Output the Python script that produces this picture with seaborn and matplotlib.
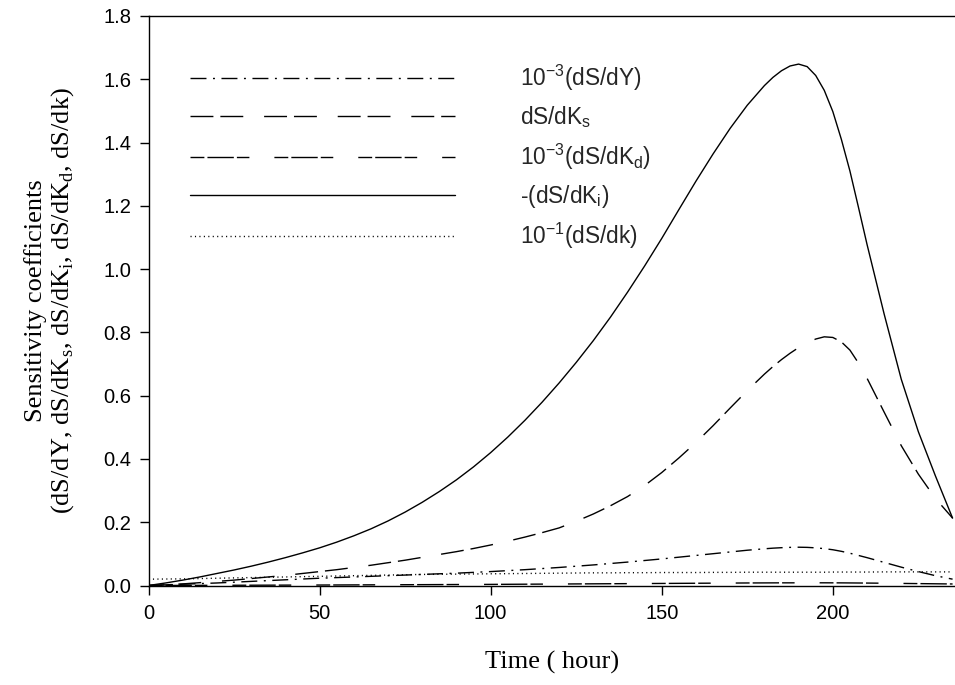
import numpy as np
import pandas as pd
import matplotlib
matplotlib.use("Agg")
import matplotlib.pyplot as plt
import seaborn as sns

# ---------------- data ----------------
time_h = [0, 5, 10, 15, 20, 25, 30, 35, 40, 45, 50, 55, 60, 65, 70, 75, 80, 85, 90, 95,
          100, 105, 110, 115, 120, 125, 130, 135, 140, 145, 150, 155, 160, 165, 170, 175,
          180, 182.5, 185, 187.5, 190, 192.5, 195, 197.5, 200, 202.5, 205, 207.5, 210,
          215, 220, 225, 230, 235]

dSdY_e3 = [0.000, 0.002, 0.004, 0.006, 0.008, 0.0105, 0.013, 0.0155, 0.018, 0.0205,
           0.023, 0.025, 0.027, 0.029, 0.031, 0.033, 0.035, 0.037, 0.039, 0.0415,
           0.044, 0.047, 0.050, 0.0535, 0.057, 0.061, 0.065, 0.0695, 0.074, 0.079,
           0.084, 0.0895, 0.095, 0.1005, 0.106, 0.1115,
           0.116, 0.118, 0.1195, 0.1205, 0.121, 0.1205, 0.119, 0.1165, 0.113, 0.108,
           0.102, 0.095, 0.088,
           0.073, 0.058, 0.044, 0.031, 0.020]

dSdKs = [0.000, 0.002, 0.005, 0.009, 0.013, 0.017, 0.022, 0.027, 0.032, 0.038,
         0.044, 0.050, 0.057, 0.064, 0.072, 0.080, 0.089, 0.098, 0.107, 0.117,
         0.128, 0.140, 0.153, 0.167, 0.182, 0.203, 0.226, 0.252, 0.281, 0.316,
         0.357, 0.403, 0.452, 0.505, 0.561, 0.616,
         0.668, 0.692, 0.714, 0.734, 0.752, 0.767, 0.779, 0.786, 0.784, 0.770,
         0.744, 0.703, 0.655,
         0.548, 0.442, 0.352, 0.275, 0.213]

dSdKd_e3 = [0.0000, 0.00015, 0.0003, 0.00045, 0.0006, 0.00075, 0.0009, 0.00105, 0.0012, 0.00135,
            0.0015, 0.0017, 0.0019, 0.0021, 0.0023, 0.0025, 0.0027, 0.0029, 0.0031, 0.0033,
            0.0035, 0.0038, 0.0041, 0.0044, 0.0047, 0.0050, 0.0053, 0.0056, 0.0059, 0.0062,
            0.0065, 0.0068, 0.0071, 0.0074, 0.0077, 0.0080,
            0.0082, 0.0083, 0.0084, 0.0084, 0.0085, 0.0085, 0.0085, 0.0085, 0.0084, 0.0083,
            0.0081, 0.0079, 0.0077,
            0.0072, 0.0066, 0.0060, 0.0054, 0.0048]

neg_dSdKi = [0.000, 0.008, 0.017, 0.027, 0.038, 0.049, 0.061, 0.074, 0.088, 0.103,
             0.119, 0.137, 0.157, 0.179, 0.204, 0.232, 0.263, 0.297, 0.334, 0.375,
             0.420, 0.469, 0.522, 0.579, 0.640, 0.705, 0.774, 0.848, 0.927, 1.010,
             1.097, 1.188, 1.278, 1.364, 1.445, 1.518,
             1.580, 1.606, 1.627, 1.642, 1.648, 1.640, 1.612, 1.565, 1.498, 1.410,
             1.310, 1.195, 1.078,
             0.858, 0.652, 0.486, 0.346, 0.213]

dSdk_e1 = [0.020, 0.0205, 0.021, 0.022, 0.023, 0.024, 0.025, 0.026, 0.027, 0.028,
           0.029, 0.030, 0.031, 0.032, 0.033, 0.034, 0.035, 0.0355, 0.036, 0.0365,
           0.037, 0.0375, 0.038, 0.0385, 0.039, 0.0395, 0.040, 0.040, 0.0405, 0.0405,
           0.041, 0.041, 0.041, 0.0415, 0.0415, 0.042,
           0.042, 0.042, 0.042, 0.042, 0.042, 0.042, 0.042, 0.042, 0.0425, 0.0425,
           0.0425, 0.0425, 0.0425,
           0.043, 0.043, 0.043, 0.043, 0.043]

series_labels = [r"10$^{\mathregular{-3}}$(dS/dY)",
                 r"dS/dK$_{\mathregular{s}}$",
                 r"10$^{\mathregular{-3}}$(dS/dK$_{\mathregular{d}}$)",
                 r"-(dS/dK$_{\mathregular{i}}$)",
                 r"10$^{\mathregular{-1}}$(dS/dk)"]
series_values = [dSdY_e3, dSdKs, dSdKd_e3, neg_dSdKi, dSdk_e1]

x_ticks = [0, 50, 100, 150, 200]
y_ticks = [0.0, 0.2, 0.4, 0.6, 0.8, 1.0, 1.2, 1.4, 1.6, 1.8]

for vals in series_values:
    assert len(vals) == len(time_h)

# ---------------- styling ----------------
sns.set_theme(style="ticks")
plt.rcParams["font.family"] = ["Liberation Sans", "DejaVu Sans"]
plt.rcParams["lines.scale_dashes"] = False
plt.rcParams["axes.linewidth"] = 1.0

dash_styles = {
    series_labels[0]: (11.5, 4.7, 1.4, 4.7),
    series_labels[1]: (16.5, 5.0, 16.5, 15.0),
    series_labels[2]: (10.0, 2.2, 19.0, 2.2, 9.0, 18.0),
    series_labels[3]: "",
    series_labels[4]: (0.8, 2.4),
}

rows = []
for lab, vals in zip(series_labels, series_values):
    for t, v in zip(time_h, vals):
        rows.append({"Time": t, "Value": v, "Series": lab})
df = pd.DataFrame(rows)

W, H = 955, 685
fig = plt.figure(figsize=(W / 100, H / 100), dpi=100)
ax = fig.add_axes([148.5 / W, (H - 585.5) / H, (956 - 148.5) / W, (585.5 - 16) / H])

sns.lineplot(data=df, x="Time", y="Value", style="Series", style_order=series_labels,
             dashes=dash_styles, color="black", linewidth=1.0, legend=False,
             estimator=None, sort=False, ax=ax)

ax.set_xlim(0, 236)
ax.set_ylim(0, 1.8)
ax.set_xticks(x_ticks)
ax.set_yticks(y_ticks)
ax.set_yticklabels([f"{v:.1f}" for v in y_ticks])
ax.tick_params(axis="both", direction="out", length=6.5, width=1.0, labelsize=14.5,
               colors="black")
ax.tick_params(axis="x", pad=7)
ax.tick_params(axis="y", pad=6)
for s in ax.spines.values():
    s.set_visible(True)
    s.set_color("black")
    s.set_linewidth(1.0)

serif = ["Liberation Serif", "DejaVu Serif"]
ax.set_xlabel("Time ( hour)", family=serif, fontsize=19, color="black")
ax.set_ylabel("Sensitivity coefficients\n"
              r"(dS/dY, dS/dK$_{\mathregular{s}}$, dS/dK$_{\mathregular{i}}$, "
              r"dS/dK$_{\mathregular{d}}$, dS/dk)",
              family=serif, fontsize=19, color="black", linespacing=1.1)
ax.xaxis.set_label_coords(0.5, -0.115)
ax.yaxis.set_label_coords(-0.09, 0.5)

handles = ax.lines[:5]
leg = ax.legend(handles, series_labels, loc="upper left", bbox_to_anchor=(0.0514, 0.918),
                frameon=False, fontsize=16.3, handlelength=11.7, handletextpad=2.87,
                labelspacing=0.5, borderpad=0, borderaxespad=0)

fig.savefig("out.png", dpi=100)
